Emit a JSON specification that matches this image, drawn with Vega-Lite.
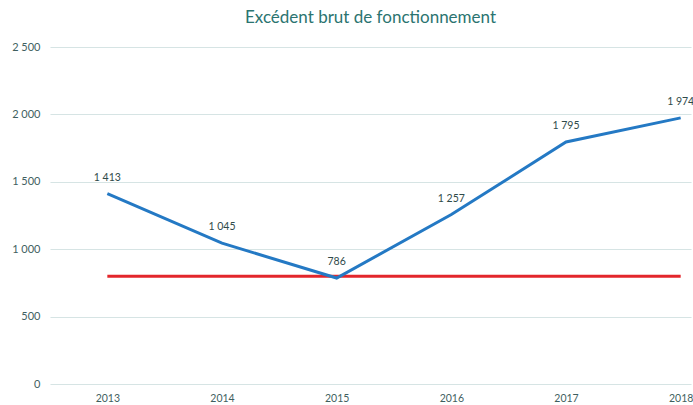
{
  "$schema": "https://vega.github.io/schema/vega-lite/v6.json",
  "autosize": "none",
  "width": 641,
  "height": 337,
  "padding": {"left": 50, "top": 47, "right": 2, "bottom": 21},
  "background": "white",
  "config": {
    "view": {"stroke": null},
    "font": "Lato"
  },
  "title": {
    "text": "Excédent brut de fonctionnement",
    "font": "Lato",
    "fontSize": 17,
    "fontWeight": "normal",
    "color": "#2b7470",
    "anchor": "middle",
    "offset": 14
  },
  "data": {
    "values": [
      {"year": 2013, "value": 1413, "label": "1 413", "seuil": 800},
      {"year": 2014, "value": 1045, "label": "1 045", "seuil": 800},
      {"year": 2015, "value": 786, "label": "786", "seuil": 800},
      {"year": 2016, "value": 1257, "label": "1 257", "seuil": 800},
      {"year": 2017, "value": 1795, "label": "1 795", "seuil": 800},
      {"year": 2018, "value": 1974, "label": "1 974", "seuil": 800}
    ]
  },
  "encoding": {
    "x": {
      "field": "year",
      "type": "quantitative",
      "scale": {"domain": [2012.5, 2018.09], "nice": false, "zero": false},
      "axis": {
        "title": null,
        "values": [2013, 2014, 2015, 2016, 2017, 2018],
        "format": "d",
        "grid": false,
        "domain": false,
        "ticks": false,
        "labelPadding": 9,
        "labelFontSize": 10.5,
        "labelColor": "#3f5f5f",
        "labelFont": "Lato"
      }
    }
  },
  "layer": [
    {
      "mark": {"type": "line", "color": "#e3262b", "strokeWidth": 3},
      "encoding": {
        "y": {"field": "seuil", "type": "quantitative"}
      }
    },
    {
      "mark": {"type": "line", "color": "#2479c4", "strokeWidth": 3},
      "encoding": {
        "y": {
          "field": "value",
          "type": "quantitative",
          "scale": {"domain": [0, 2500], "nice": false},
          "axis": {
            "title": null,
            "values": [0, 500, 1000, 1500, 2000, 2500],
            "labelExpr": "replace(format(datum.value, ',d'), ',', ' ')",
            "grid": true,
            "gridColor": "#d6e4e4",
            "gridWidth": 1.2,
            "domain": false,
            "ticks": false,
            "labelPadding": 10,
            "labelFontSize": 11,
            "labelColor": "#3f5f5f",
            "labelFont": "Lato"
          }
        }
      }
    },
    {
      "mark": {"type": "text", "dy": -16, "fontSize": 10.5, "color": "#2f4a4a", "font": "Lato"},
      "encoding": {
        "y": {"field": "value", "type": "quantitative"},
        "text": {"field": "label"}
      }
    }
  ]
}
